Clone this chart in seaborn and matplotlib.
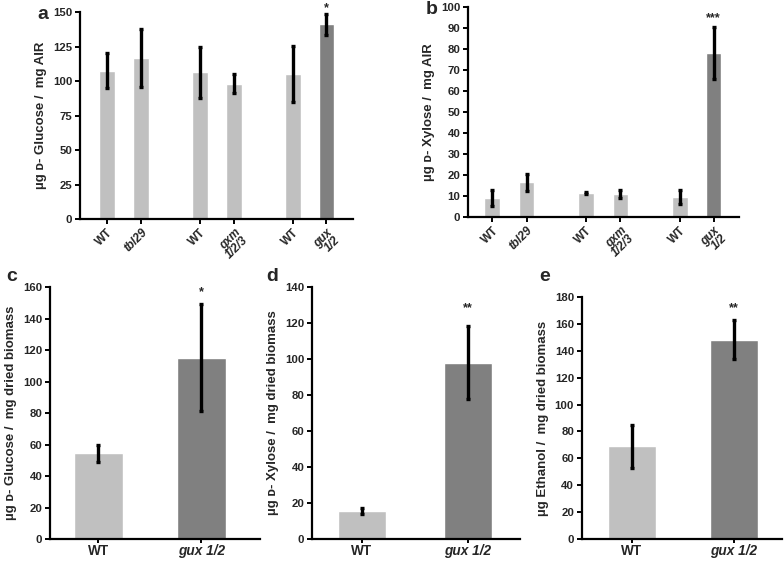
import numpy as np
import pandas as pd
import matplotlib
matplotlib.use("Agg")
import matplotlib.pyplot as plt
import seaborn as sns

# ---- data ----
top_labels = ["WT", "tbl29", "WT", "gxm\n1/2/3", "WT", "gux\n1/2"]
top_italic = [False, True, False, True, False, True]
top_shade = ["light", "light", "light", "light", "light", "dark"]
top_pos = [0, 1, 2.72, 3.72, 5.44, 6.42]

glucose_air = [107.5, 117, 106.5, 98, 105, 141]
glucose_air_err = [12.5, 21, 18.5, 7, 20.5, 7.5]

xylose_air = [9, 16.5, 11.5, 11, 9.5, 78]
xylose_air_err = [4, 4.2, 0.6, 2, 3.5, 12.3]

bottom_labels = ["WT", "gux 1/2"]
bottom_shade = ["light", "dark"]
bottom_pos = [0, 1]

glucose_bio = [54.5, 115]
glucose_bio_err = [5.5, 34]
xylose_bio = [15.5, 98]
xylose_bio_err = [1.5, 20.5]
ethanol_bio = [69, 148]
ethanol_bio_err = [16, 14.5]

palette = {"light": "#c0c0c0", "dark": "#808080"}

sns.set_style("ticks")
plt.rcParams["font.family"] = ["Liberation Sans", "DejaVu Sans"]
plt.rcParams["font.weight"] = "bold"

fig = plt.figure(figsize=(7.84, 5.61), dpi=100)


def panel(rect, pos, vals, errs, shades, labels, italic, ylim, yticks, ylabel,
          xlim, width, letter, letter_xy, star, star_y, rotate):
    ax = fig.add_axes(rect)
    df = pd.DataFrame({"pos": pos, "val": vals, "shade": shades})
    sns.barplot(data=df, x="pos", y="val", hue="shade", palette=palette,
                native_scale=True, dodge=False, errorbar=None, width=width,
                legend=False, ax=ax, saturation=1)
    ax.errorbar(pos, vals, yerr=errs, fmt="none", ecolor="black",
                elinewidth=2.4, capsize=1.5, capthick=2.4, zorder=3)
    ax.set_xlim(*xlim)
    ax.set_ylim(*ylim)
    ax.set_yticks(yticks)
    ax.set_yticklabels([str(t) for t in yticks], fontsize=8.2, fontweight="bold")
    ax.set_xticks(pos)
    if rotate:
        ax.set_xticklabels(labels, fontsize=8.5, fontweight="bold",
                           rotation=45, ha="right", rotation_mode="anchor",
                           linespacing=0.9)
    else:
        ax.set_xticklabels(labels, fontsize=9.8, fontweight="bold")
    for t, it in zip(ax.get_xticklabels(), italic):
        if it:
            t.set_fontstyle("italic")
    ax.set_xlabel("")
    ax.set_ylabel(ylabel, fontsize=9.5, fontweight="bold", labelpad=4)
    for s in ["top", "right"]:
        ax.spines[s].set_visible(False)
    for s in ["left", "bottom"]:
        ax.spines[s].set_linewidth(1.6)
        ax.spines[s].set_color("black")
    ax.tick_params(axis="both", direction="out", length=3.5, width=1.4,
                   color="black", pad=2)
    if not rotate:
        ax.tick_params(axis="x", length=3, pad=0.8)
    fig.text(letter_xy[0], letter_xy[1], letter, fontsize=14, fontweight="bold",
             ha="left", va="center")
    ax.text(pos[-1], star_y, star, ha="center", va="center", fontsize=9,
            fontweight="bold")
    return ax


panel([0.102, 0.6096, 0.348, 0.369], top_pos, glucose_air, glucose_air_err,
      top_shade, top_labels, top_italic, (0, 150), [0, 25, 50, 75, 100, 125, 150],
      "µg ᴅ- Glucose /  mg AIR", (-0.79, 7.19), 0.47, "a", (0.048, 0.975),
      "*", 153, True)

panel([0.597, 0.6132, 0.3457, 0.3743], top_pos, xylose_air, xylose_air_err,
      top_shade, top_labels, top_italic, (0, 100), list(range(0, 101, 10)),
      "µg ᴅ- Xylose /  mg AIR", (-0.7, 7.16), 0.46, "b", (0.543, 0.983),
      "***", 94.5, True)

panel([0.0638, 0.0392, 0.268, 0.449], bottom_pos, glucose_bio, glucose_bio_err,
      bottom_shade, bottom_labels, [False, True], (0, 160), list(range(0, 161, 20)),
      "µg ᴅ- Glucose /  mg dried biomass", (-0.466, 1.57), 0.476, "c", (0.008, 0.508),
      "*", 157, False)

panel([0.398, 0.0392, 0.265, 0.4493], bottom_pos, xylose_bio, xylose_bio_err,
      bottom_shade, bottom_labels, [False, True], (0, 140), list(range(0, 141, 20)),
      "µg ᴅ- Xylose /  mg dried biomass", (-0.47, 1.49), 0.45, "d", (0.340, 0.508),
      "**", 128, False)

panel([0.742, 0.0392, 0.255, 0.4315], bottom_pos, ethanol_bio, ethanol_bio_err,
      bottom_shade, bottom_labels, [False, True], (0, 180), list(range(0, 181, 20)),
      "µg Ethanol /  mg dried biomass", (-0.49, 1.47), 0.47, "e", (0.688, 0.508),
      "**", 172, False)

fig.savefig("out.png", dpi=100)
